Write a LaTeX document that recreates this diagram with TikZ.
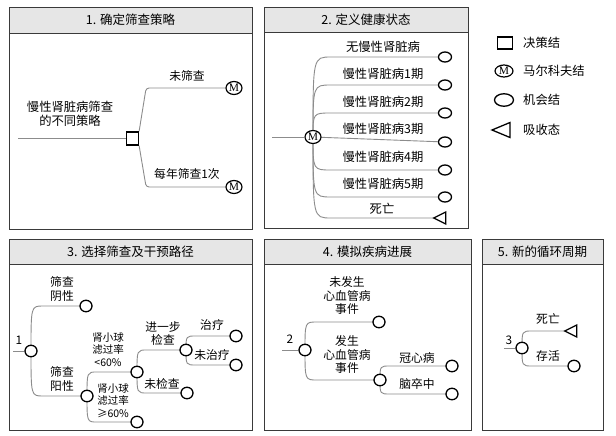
\documentclass[tikz,border=0pt]{standalone}
\usepackage{fontspec}
\setmainfont{Liberation Serif}
\newfontfamily\cjk{Noto Sans CJK SC}
\usetikzlibrary{shapes.geometric,calc}
\pgfdeclarelayer{bg}
\pgfdeclarelayer{edges}
\pgfsetlayers{bg,edges,main}
\definecolor{hdr}{HTML}{E6E6E6}
\definecolor{brd}{HTML}{3A3A3A}
\definecolor{lnk}{HTML}{8C8C8C}
\tikzset{
  panel/.style={draw=brd, line width=0.9pt},
  header/.style={draw=brd, line width=0.9pt, fill=hdr},
  htext/.style={font=\cjk\fontsize{12.5}{14}\selectfont, inner sep=0pt},
  lbl/.style={font=\cjk\fontsize{11.8}{13.5}\selectfont, inner sep=0pt, align=center},
  blbl/.style={font=\cjk\fontsize{12.3}{13.5}\selectfont, inner sep=0pt, align=center},
  slbl/.style={font=\cjk\fontsize{10.5}{12.5}\selectfont, inner sep=0pt, align=center},
  branch/.style={draw=lnk, line width=0.9pt},
  chance/.style={ellipse, draw=black, line width=1.3pt, fill=white, inner sep=0pt, minimum width=12pt, minimum height=11.5pt},
  chancew/.style={chance, minimum width=13pt, minimum height=10pt},
  mk/.style={ellipse, draw=black, line width=1.2pt, fill=white, inner sep=0pt, minimum width=16pt, minimum height=13pt, font=\fontsize{11.5}{11.5}\selectfont},
  dec/.style={rectangle, draw=black, line width=1.2pt, fill=white, inner sep=0pt, minimum width=12pt, minimum height=13pt},
  absorb/.style={isosceles triangle, shape border rotate=180, isosceles triangle stretches, draw=black, line width=1.3pt, fill=white, inner sep=0pt, minimum width=12pt, minimum height=12pt},
}
\newcommand{\fork}[3][10]{\draw[branch] (#2.center) .. controls (#2.center |- #3.center) .. ($(#2.center |- #3.center)+(#1,0)$) -- (#3.center);}
\begin{document}
\begin{tikzpicture}[x=1pt,y=-1pt]
\useasboundingbox (0,0) rectangle (616,436);
\begin{pgfonlayer}{bg}
\fill[white] (0,0) rectangle (616,436);
% panel frames
\draw[panel] (9,7) rectangle (252,229);
\draw[header] (9,7) rectangle (252,33);
\draw[panel] (264,7) rectangle (468,228);
\draw[header] (264,7) rectangle (468,32);
\draw[panel] (9,239) rectangle (252,430);
\draw[header] (9,239) rectangle (252,264);
\draw[panel] (264,239) rectangle (471,430);
\draw[header] (264,239) rectangle (471,264);
\draw[panel] (482,239) rectangle (603,430);
\draw[header] (482,239) rectangle (603,264);
\end{pgfonlayer}
% headers
\node[htext] (h1) at (130.5,20) {1. 确定筛查策略};
\node[htext] (h2) at (366,19.5) {2. 定义健康状态};
\node[htext] (h3) at (130.5,251.5) {3. 选择筛查及干预路径};
\node[htext] (h4) at (367.5,251.5) {4. 模拟疾病进展};
\node[htext] (h5) at (542.5,251.5) {5. 新的循环周期};

% ---------- panel 1
\coordinate (d1in) at (18,138.5);
\node[dec] (d1) at (132.5,138.5) {};
\node[mk] (m1a) at (234,88) {M};
\node[mk] (m1b) at (234,187) {M};
\node[lbl] (l1a) at (187,76) {未筛查};
\node[lbl] (l1b) at (187,174) {每年筛查1次};
\node[blbl] (l1c) at (70,114) {慢性肾脏病筛查\\的不同策略};
\begin{pgfonlayer}{edges}
\draw[branch] (d1in) -- (d1);
\draw[branch, rounded corners=3pt] (d1.north east) -- ($(d1.east |- m1a)+(7,0)$) -- (m1a.center);
\draw[branch, rounded corners=3pt] (d1.south east) -- ($(d1.east |- m1b)+(7,0)$) -- (m1b.center);
\end{pgfonlayer}

% ---------- panel 2
\coordinate (m2in) at (272,137);
\node[mk] (m2) at (313,137) {M};
\node[chancew] (c2a) at (445,57) {};
\node[chancew] (c2b) at (445,85) {};
\node[chancew] (c2c) at (445,113) {};
\node[chancew] (c2d) at (445,142) {};
\node[chancew] (c2e) at (445,170) {};
\node[chancew] (c2f) at (445,197) {};
\node[absorb] (t2) at (442,218) {};
\node[blbl] (l2a) at (383,47) {无慢性肾脏病};
\node[blbl] (l2b) at (383,74) {慢性肾脏病1期};
\node[blbl] (l2c) at (383,102) {慢性肾脏病2期};
\node[blbl] (l2d) at (383,129) {慢性肾脏病3期};
\node[blbl] (l2e) at (383,157) {慢性肾脏病4期};
\node[blbl] (l2f) at (383,184) {慢性肾脏病5期};
\node[blbl] (l2g) at (382,209) {死亡};
\begin{pgfonlayer}{edges}
\draw[branch] (m2in) -- (m2);
\foreach \t in {c2a,c2b,c2c,c2e,c2f,t2}{\fork[18]{m2}{\t}}
\draw[branch] (m2.center) -- (c2d.center);
\end{pgfonlayer}

% ---------- legend
\node[dec, minimum width=15pt, minimum height=12pt] (g1) at (505,43) {};
\node[mk, minimum width=18pt, minimum height=12pt] (g2) at (504,71) {M};
\node[chance, minimum width=19pt, minimum height=12.5pt] (g3) at (504,100) {};
\node[absorb, minimum width=15pt, minimum height=18pt] (g4) at (505,130) {};
\node[blbl, anchor=west] (gl1) at (523,43) {决策结};
\node[blbl, anchor=west] (gl2) at (523,71) {马尔科夫结};
\node[blbl, anchor=west] (gl3) at (523,100) {机会结};
\node[blbl, anchor=west] (gl4) at (523,130) {吸收态};

% ---------- panel 3
\coordinate (r3in) at (13,351);
\node[lbl] (n3) at (19,340) {1};
\node[chance] (r3) at (31,351) {};
\node[chance] (a3) at (86,306) {};
\node[chance] (b3) at (87,396) {};
\node[chance] (c3) at (137,372) {};
\node[chance] (d3) at (137,422) {};
\node[chance] (e3) at (186,350) {};
\node[chance] (f3) at (187,393) {};
\node[chance] (g3a) at (236,336) {};
\node[chance] (g3b) at (236,365) {};
\node[lbl] (l3a) at (62,289) {筛查\\阴性};
\node[lbl] (l3b) at (62,379) {筛查\\阳性};
\node[slbl] (l3c) at (108,349.5) {肾小球\\滤过率\\<60\%};
\node[slbl] (l3d) at (113,400.5) {肾小球\\滤过率\\≥60\%};
\node[lbl] (l3e) at (163,333.5) {进一步\\检查};
\node[lbl] (l3f) at (162,384) {未检查};
\node[lbl] (l3g) at (212,325) {治疗};
\node[lbl] (l3h) at (212,355) {未治疗};
\begin{pgfonlayer}{edges}
\draw[branch] (r3in) -- (r3);
\fork[12]{r3}{a3}\fork[12]{r3}{b3}
\fork{b3}{c3}\fork{b3}{d3}
\fork{c3}{e3}\fork{c3}{f3}
\fork{e3}{g3a}\fork{e3}{g3b}
\end{pgfonlayer}

% ---------- panel 4
\coordinate (r4in) at (282,350);
\node[lbl] (n4) at (290,339) {2};
\node[chance] (r4) at (305,350) {};
\node[chance] (a4) at (379,322) {};
\node[chance] (b4) at (380,380) {};
\node[chance] (c4) at (452,366) {};
\node[chance] (d4) at (452,394) {};
\node[lbl] (l4a) at (347,296) {未发生\\心血管病\\事件};
\node[lbl] (l4b) at (347,355) {发生\\心血管病\\事件};
\node[lbl] (l4c) at (417,358) {冠心病};
\node[lbl] (l4d) at (417,384) {脑卒中};
\begin{pgfonlayer}{edges}
\draw[branch] (r4in) -- (r4);
\fork[12]{r4}{a4}\fork[12]{r4}{b4}
\fork{b4}{c4}\fork{b4}{d4}
\end{pgfonlayer}

% ---------- panel 5
\coordinate (r5in) at (504,348);
\node[lbl] (n5) at (509,340) {3};
\node[chance] (r5) at (522,348) {};
\node[absorb] (t5) at (573,331) {};
\node[chance] (a5) at (574,366) {};
\node[lbl] (l5a) at (548,319) {死亡};
\node[lbl] (l5b) at (548,356) {存活};
\begin{pgfonlayer}{edges}
\draw[branch] (r5in) -- (r5);
\fork{r5}{t5}\fork{r5}{a5}
\end{pgfonlayer}
\end{tikzpicture}
\end{document}
